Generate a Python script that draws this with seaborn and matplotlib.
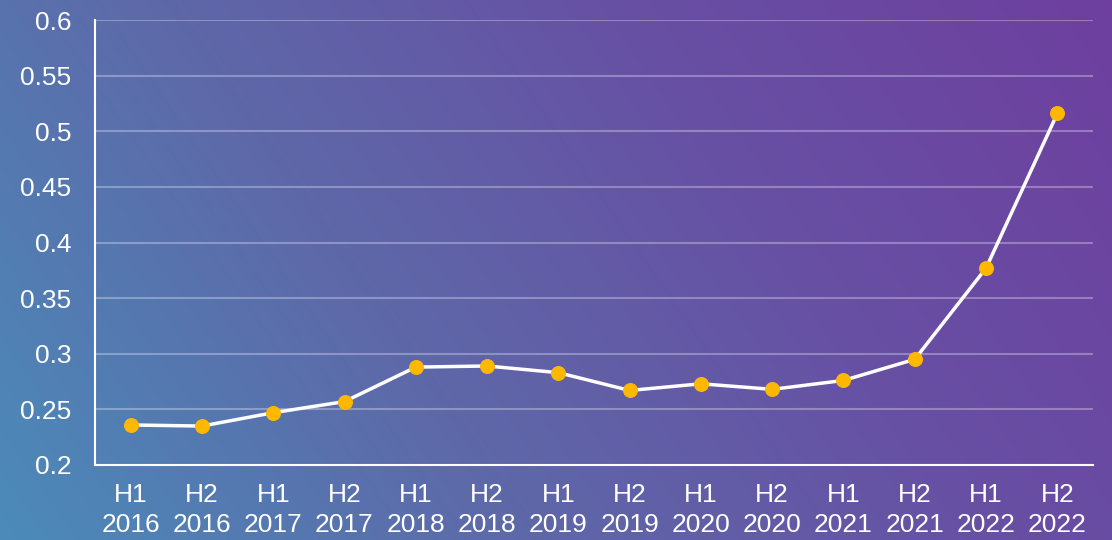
import numpy as np
import pandas as pd
import matplotlib
matplotlib.use("Agg")
import matplotlib.pyplot as plt
import seaborn as sns
from matplotlib.colors import LinearSegmentedColormap

periods = ["H1\n2016", "H2\n2016", "H1\n2017", "H2\n2017", "H1\n2018", "H2\n2018",
           "H1\n2019", "H2\n2019", "H1\n2020", "H2\n2020", "H1\n2021", "H2\n2021",
           "H1\n2022", "H2\n2022"]
values = [0.236, 0.235, 0.247, 0.257, 0.288, 0.289, 0.283, 0.267, 0.273, 0.268,
          0.276, 0.295, 0.377, 0.516]
y_ticks = [0.2, 0.25, 0.3, 0.35, 0.4, 0.45, 0.5, 0.55, 0.6]

sns.set_theme(style="white")
plt.rcParams['font.family'] = ['Liberation Sans', 'DejaVu Sans']

fig = plt.figure(figsize=(11.12, 5.4), dpi=100)

# gradient background (bottom-left blue -> top-right purple)
bg = fig.add_axes([0, 0, 1, 1], zorder=0)
h, w = 270, 556
yy, xx = np.mgrid[0:h, 0:w]
xn = xx / (w - 1)
yn = 1 - yy / (h - 1)  # 0 at bottom
t = (xn * 0.75 + yn * 0.25)
t = (t - t.min()) / (t.max() - t.min())
cmap = LinearSegmentedColormap.from_list("bg", ["#4b8bba", "#5d6aa9", "#6750a4", "#6e3f9f"])
bg.imshow(t, cmap=cmap, aspect="auto", extent=[0, 1, 0, 1], origin="upper")
bg.set_axis_off()

ax = fig.add_axes([95 / 1112, 1 - 465 / 540, (1093 - 95) / 1112, (465 - 20) / 540], zorder=1)
ax.set_facecolor("none")

df = pd.DataFrame({"x": np.arange(len(periods)), "v": values})
sns.lineplot(data=df, x="x", y="v", ax=ax, color="white", linewidth=2.5,
             marker="o", markersize=10, markerfacecolor="#ffb800",
             markeredgecolor="#ffb800", zorder=3)

ax.set_xlim(-0.5, len(periods) - 0.5)
ax.set_ylim(0.2, 0.6)
ax.set_xticks(np.arange(len(periods)))
ax.set_xticklabels(periods)
ax.set_xticks([len(periods) - 0.5], minor=True)
ax.set_yticks(y_ticks)
ax.set_yticklabels([f"{v:g}" for v in y_ticks])
ax.set_xlabel("")
ax.set_ylabel("")

for s in ["top", "right"]:
    ax.spines[s].set_visible(False)
for s in ["left", "bottom"]:
    ax.spines[s].set_color("white")
    ax.spines[s].set_linewidth(1.5)

ax.yaxis.grid(True, color="white", alpha=0.3, linewidth=1.5)
ax.xaxis.grid(False)
ax.tick_params(axis="both", which="both", colors="white", direction="out",
               length=6, width=1.5, labelsize=19, labelcolor="white")
ax.tick_params(axis="x", pad=7)
ax.tick_params(axis="y", pad=11)
for lbl in ax.get_xticklabels():
    lbl.set_linespacing(1.32)

fig.savefig("out.png", dpi=100)
